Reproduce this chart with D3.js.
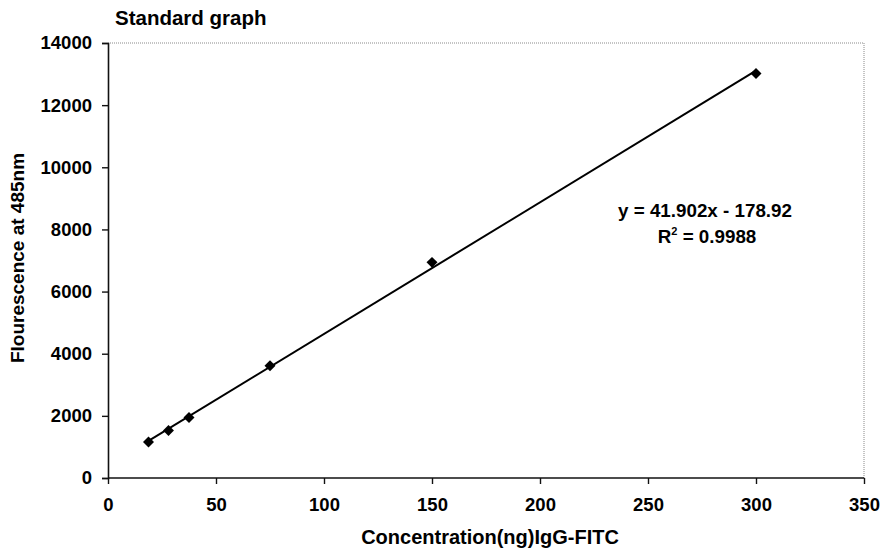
<!DOCTYPE html>
<html>
<head>
<meta charset="utf-8">
<script src="https://cdn.jsdelivr.net/npm/d3@7"></script>
<style>
  html, body { margin: 0; padding: 0; background: #fff; }
  svg { display: block; font-family: "Liberation Sans", Arial, sans-serif; font-weight: bold; }
</style>
</head>
<body>
<svg id="chart" width="883" height="549"></svg>
<script>
// ---- data ----
const concentration = [18.75, 28, 37.5, 75, 150, 300];
const fluorescence  = [1160, 1530, 1950, 3610, 6940, 13020];
const xTicks = [0, 50, 100, 150, 200, 250, 300, 350];
const yTicks = [0, 2000, 4000, 6000, 8000, 10000, 12000, 14000];
const titleText = "Standard graph";
const xLabel = "Concentration(ng)IgG-FITC";
const yLabel = "Flourescence at 485nm";
const equationText = "y = 41.902x - 178.92";
const r2Value = "0.9988";

// ---- layout ----
const W = 883, H = 549;
const m = { left: 108, right: 19, top: 43, bottom: 71 };
const svg = d3.select("#chart");

const x = d3.scaleLinear().domain([0, 350]).range([m.left, W - m.right]);
const y = d3.scaleLinear().domain([0, 14000]).range([H - m.bottom, m.top]);

// plot-area border (top & right dotted)
svg.append("path")
  .attr("d", `M${x(0)},${y(14000)}H${x(350)}V${y(0)}`)
  .attr("fill", "none").attr("stroke", "#8a8a8a").attr("stroke-width", 1)
  .attr("stroke-dasharray", "1,1");

// axes
const xAxis = svg.append("g").attr("transform", `translate(0,${y(0)})`)
  .call(d3.axisBottom(x).tickValues(xTicks).tickSize(6).tickPadding(14).tickFormat(d3.format("d")));
const yAxis = svg.append("g").attr("transform", `translate(${x(0)},0)`)
  .call(d3.axisLeft(y).tickValues(yTicks).tickSize(6).tickPadding(10).tickFormat(d3.format("d")));
[xAxis, yAxis].forEach(g => {
  g.select(".domain").attr("stroke", "#111").attr("stroke-width", 1.6);
  g.selectAll(".tick line").attr("stroke", "#111").attr("stroke-width", 1.4);
  g.selectAll(".tick text").attr("fill", "#000")
    .style("font-size", "18.5px").style("font-weight", "bold")
    .style("font-family", "'Liberation Sans', Arial, sans-serif");
});
xAxis.selectAll(".domain").attr("d", `M${x(0)},0H${x(350)}`);

// regression line computed from data
const mx = d3.mean(concentration), my = d3.mean(fluorescence);
let sxy = 0, sxx = 0;
concentration.forEach((c, i) => { sxy += (c - mx) * (fluorescence[i] - my); sxx += (c - mx) ** 2; });
const slope = sxy / sxx, icpt = my - slope * mx;
const x0 = d3.min(concentration), x1 = d3.max(concentration);
svg.append("line")
  .attr("x1", x(x0)).attr("y1", y(slope * x0 + icpt))
  .attr("x2", x(x1)).attr("y2", y(slope * x1 + icpt))
  .attr("stroke", "#000").attr("stroke-width", 2);

// markers (diamonds)
const pts = concentration.map((c, i) => ({ c, f: fluorescence[i] }));
svg.append("g").selectAll("path").data(pts).join("path")
  .attr("d", d3.symbol(d3.symbolSquare, 60)())
  .attr("transform", d => `translate(${x(d.c)},${y(d.f)}) rotate(45)`)
  .attr("fill", "#000");

// title
svg.append("text").attr("x", 115).attr("y", 25)
  .style("font-size", "20.5px").text(titleText);

// x label
svg.append("text").attr("x", 490).attr("y", 544).attr("text-anchor", "middle")
  .style("font-size", "20px").text(xLabel);

// y label
svg.append("text").attr("transform", `translate(24,258) rotate(-90)`)
  .attr("text-anchor", "middle").style("font-size", "19px").text(yLabel);

// equation
svg.append("text").attr("x", 705).attr("y", 217).attr("text-anchor", "middle")
  .style("font-size", "18.8px").text(equationText);
const r2 = svg.append("text").attr("x", 707).attr("y", 243).attr("text-anchor", "middle")
  .style("font-size", "18.8px");
r2.append("tspan").text("R");
r2.append("tspan").attr("dy", -8).style("font-size", "11px").text("2");
r2.append("tspan").attr("dy", 8).text(" = " + r2Value);
</script>
</body>
</html>
